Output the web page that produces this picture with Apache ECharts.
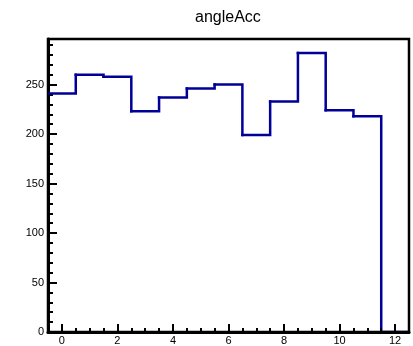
<!DOCTYPE html>
<html>
<head>
<meta charset="utf-8">
<script src="https://cdn.jsdelivr.net/npm/echarts@6/dist/echarts.min.js"></script>
<style>
  html, body { margin: 0; padding: 0; background: #fff; }
  #chart { width: 413px; height: 346px; }
</style>
</head>
<body>
<div id="chart"></div>
<script>
// Histogram of angleAcc: unit-width bins centred on 0..12
const binCenters = [0, 1, 2, 3, 4, 5, 6, 7, 8, 9, 10, 11, 12];
const counts = [241, 260, 258, 223, 237, 246, 250, 199, 233, 282, 224, 218, 0];
const binWidth = 1;

const xMajorTicks = [0, 2, 4, 6, 8, 10, 12];
const xMinorTicks = [-0.5, 0.5, 1, 1.5, 2.5, 3, 3.5, 4.5, 5, 5.5, 6.5, 7, 7.5, 8.5, 9, 9.5, 10.5, 11, 11.5, 12.5];
const yMajorTicks = [0, 50, 100, 150, 200, 250];
const yMinorTicks = [10, 20, 30, 40, 60, 70, 80, 90, 110, 120, 130, 140, 160, 170, 180, 190, 210, 220, 230, 240, 260, 270, 280, 290];

const xMin = binCenters[0] - binWidth / 2;
const xMax = binCenters[binCenters.length - 1] + binWidth / 2;
const yMax = Math.max(...counts) * 1.05;

// one item per bin: [centre, count, count of the following bin]
const binData = binCenters.map((c, i) => [c, counts[i], i + 1 < counts.length ? counts[i + 1] : counts[i]]);

const font = 'Liberation Sans, Arial, Helvetica, sans-serif';

// each bin draws its top edge and the riser to the next bin's level
function renderBin(params, api) {
  const c = api.value(0), v = api.value(1), next = api.value(2);
  const p0 = api.coord([c - binWidth / 2, v]);
  const p1 = api.coord([c + binWidth / 2, v]);
  const p2 = api.coord([c + binWidth / 2, next]);
  return {
    type: 'polyline',
    shape: { points: [p0, p1, p2] },
    style: { stroke: '#000099', lineWidth: 2.5, fill: null, lineJoin: 'miter', lineCap: 'square' }
  };
}

const chart = echarts.init(document.getElementById('chart'), null, { renderer: 'canvas' });
chart.setOption({
  animation: false,
  backgroundColor: '#fff',
  title: {
    text: 'angleAcc',
    left: 190,
    top: 5,
    textStyle: { fontFamily: font, fontSize: 16, fontWeight: 'normal', color: '#000' }
  },
  grid: {
    left: 48, right: 4, top: 39, bottom: 14,
    show: true, borderColor: '#000', borderWidth: 2.5, backgroundColor: 'transparent'
  },
  xAxis: [
    {
      type: 'value', min: xMin, max: xMax, position: 'bottom', z: 5,
      axisLine: { show: true, onZero: false, lineStyle: { color: '#000', width: 3 } },
      axisTick: { show: true, inside: true, length: 8, customValues: xMajorTicks, lineStyle: { color: '#000', width: 2 } },
      axisLabel: { show: true, customValues: xMajorTicks, margin: 3, fontFamily: font, fontSize: 11, color: '#000' },
      splitLine: { show: false }
    },
    {
      type: 'value', min: xMin, max: xMax, position: 'bottom', z: 5,
      axisLine: { show: false, onZero: false },
      axisTick: { show: true, inside: true, length: 4, customValues: xMinorTicks, lineStyle: { color: '#000', width: 2 } },
      axisLabel: { show: false },
      splitLine: { show: false }
    }
  ],
  yAxis: [
    {
      type: 'value', min: 0, max: yMax, position: 'left',
      axisLine: { show: true, onZero: false, lineStyle: { color: '#000', width: 3 } },
      axisTick: { show: true, inside: true, length: 9, customValues: yMajorTicks, lineStyle: { color: '#000', width: 2 } },
      axisLabel: { show: true, customValues: yMajorTicks, margin: 4, fontFamily: font, fontSize: 11, color: '#000' },
      splitLine: { show: false }
    },
    {
      type: 'value', min: 0, max: yMax, position: 'left',
      axisLine: { show: false, onZero: false },
      axisTick: { show: true, inside: true, length: 5, customValues: yMinorTicks, lineStyle: { color: '#000', width: 2 } },
      axisLabel: { show: false },
      splitLine: { show: false }
    }
  ],
  series: [{
    type: 'custom',
    renderItem: renderBin,
    data: binData,
    encode: { x: 0, y: 1 },
    clip: true,
    xAxisIndex: 0,
    yAxisIndex: 0
  }]
});
</script>
</body>
</html>
